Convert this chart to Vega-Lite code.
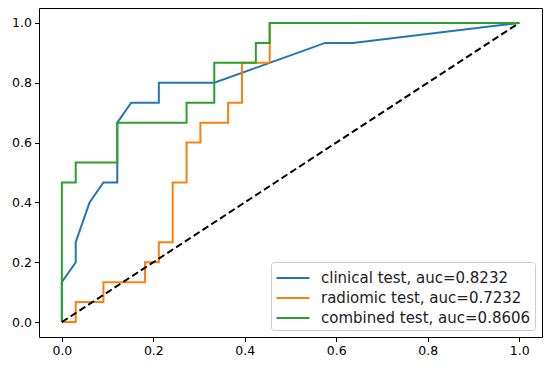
{
  "$schema": "https://vega.github.io/schema/vega-lite/v6.json",
  "width": 503,
  "height": 329,
  "autosize": {"type": "none"},
  "padding": {"left": 39, "top": 8, "right": 8, "bottom": 35},
  "background": "white",
  "config": {
    "view": {"stroke": "black", "strokeWidth": 1},
    "axis": {
      "grid": false,
      "domain": false,
      "labelFont": "DejaVu Sans",
      "labelFontSize": 12.5,
      "labelColor": "black",
      "tickColor": "black",
      "tickSize": 4.5,
      "tickWidth": 1,
      "labelPadding": 3,
      "title": null
    },
    "legend": {
      "orient": "bottom-right",
      "offset": 7,
      "strokeColor": "#cccccc",
      "fillColor": "white",
      "padding": 4,
      "cornerRadius": 3,
      "labelFont": "DejaVu Sans",
      "labelFontSize": 15,
      "labelColor": "#222222",
      "symbolType": "M-1.5,0H1.5",
      "symbolSize": 484,
      "symbolStrokeWidth": 2,
      "symbolOffset": 6,
      "labelOffset": 16,
      "rowPadding": 0,
      "labelLimit": 400
    }
  },
  "datasets": {
    "roc": [
      {"s": "clinical test, auc=0.8232", "i": 0, "x": 0, "y": 0},
      {"s": "clinical test, auc=0.8232", "i": 1, "x": 0, "y": 0.1333},
      {"s": "clinical test, auc=0.8232", "i": 2, "x": 0.0303, "y": 0.2},
      {"s": "clinical test, auc=0.8232", "i": 3, "x": 0.0303, "y": 0.2667},
      {"s": "clinical test, auc=0.8232", "i": 4, "x": 0.0606, "y": 0.4},
      {"s": "clinical test, auc=0.8232", "i": 5, "x": 0.0909, "y": 0.4667},
      {"s": "clinical test, auc=0.8232", "i": 6, "x": 0.1212, "y": 0.4667},
      {"s": "clinical test, auc=0.8232", "i": 7, "x": 0.1212, "y": 0.6667},
      {"s": "clinical test, auc=0.8232", "i": 8, "x": 0.1515, "y": 0.7333},
      {"s": "clinical test, auc=0.8232", "i": 9, "x": 0.2121, "y": 0.7333},
      {"s": "clinical test, auc=0.8232", "i": 10, "x": 0.2121, "y": 0.8},
      {"s": "clinical test, auc=0.8232", "i": 11, "x": 0.3333, "y": 0.8},
      {"s": "clinical test, auc=0.8232", "i": 12, "x": 0.5758, "y": 0.9333},
      {"s": "clinical test, auc=0.8232", "i": 13, "x": 0.6364, "y": 0.9333},
      {"s": "clinical test, auc=0.8232", "i": 14, "x": 1, "y": 1},
      {"s": "radiomic test, auc=0.7232", "i": 0, "x": 0, "y": 0},
      {"s": "radiomic test, auc=0.7232", "i": 1, "x": 0.0303, "y": 0},
      {"s": "radiomic test, auc=0.7232", "i": 2, "x": 0.0303, "y": 0.0667},
      {"s": "radiomic test, auc=0.7232", "i": 3, "x": 0.0909, "y": 0.0667},
      {"s": "radiomic test, auc=0.7232", "i": 4, "x": 0.0909, "y": 0.1333},
      {"s": "radiomic test, auc=0.7232", "i": 5, "x": 0.1818, "y": 0.1333},
      {"s": "radiomic test, auc=0.7232", "i": 6, "x": 0.1818, "y": 0.2},
      {"s": "radiomic test, auc=0.7232", "i": 7, "x": 0.2121, "y": 0.2},
      {"s": "radiomic test, auc=0.7232", "i": 8, "x": 0.2121, "y": 0.2667},
      {"s": "radiomic test, auc=0.7232", "i": 9, "x": 0.2424, "y": 0.2667},
      {"s": "radiomic test, auc=0.7232", "i": 10, "x": 0.2424, "y": 0.4667},
      {"s": "radiomic test, auc=0.7232", "i": 11, "x": 0.2727, "y": 0.4667},
      {"s": "radiomic test, auc=0.7232", "i": 12, "x": 0.2727, "y": 0.6},
      {"s": "radiomic test, auc=0.7232", "i": 13, "x": 0.303, "y": 0.6},
      {"s": "radiomic test, auc=0.7232", "i": 14, "x": 0.303, "y": 0.6667},
      {"s": "radiomic test, auc=0.7232", "i": 15, "x": 0.3636, "y": 0.6667},
      {"s": "radiomic test, auc=0.7232", "i": 16, "x": 0.3636, "y": 0.7333},
      {"s": "radiomic test, auc=0.7232", "i": 17, "x": 0.3939, "y": 0.7333},
      {"s": "radiomic test, auc=0.7232", "i": 18, "x": 0.3939, "y": 0.8667},
      {"s": "radiomic test, auc=0.7232", "i": 19, "x": 0.4545, "y": 0.8667},
      {"s": "radiomic test, auc=0.7232", "i": 20, "x": 0.4545, "y": 1},
      {"s": "radiomic test, auc=0.7232", "i": 21, "x": 1, "y": 1},
      {"s": "combined test, auc=0.8606", "i": 0, "x": 0, "y": 0},
      {"s": "combined test, auc=0.8606", "i": 1, "x": 0, "y": 0.4667},
      {"s": "combined test, auc=0.8606", "i": 2, "x": 0.0303, "y": 0.4667},
      {"s": "combined test, auc=0.8606", "i": 3, "x": 0.0303, "y": 0.5333},
      {"s": "combined test, auc=0.8606", "i": 4, "x": 0.1212, "y": 0.5333},
      {"s": "combined test, auc=0.8606", "i": 5, "x": 0.1212, "y": 0.6667},
      {"s": "combined test, auc=0.8606", "i": 6, "x": 0.2727, "y": 0.6667},
      {"s": "combined test, auc=0.8606", "i": 7, "x": 0.2727, "y": 0.7333},
      {"s": "combined test, auc=0.8606", "i": 8, "x": 0.3333, "y": 0.7333},
      {"s": "combined test, auc=0.8606", "i": 9, "x": 0.3333, "y": 0.8667},
      {"s": "combined test, auc=0.8606", "i": 10, "x": 0.4242, "y": 0.8667},
      {"s": "combined test, auc=0.8606", "i": 11, "x": 0.4242, "y": 0.9333},
      {"s": "combined test, auc=0.8606", "i": 12, "x": 0.4545, "y": 0.9333},
      {"s": "combined test, auc=0.8606", "i": 13, "x": 0.4545, "y": 1},
      {"s": "combined test, auc=0.8606", "i": 14, "x": 1, "y": 1}
    ],
    "diag": [
      {"i": 0, "x": 0, "y": 0},
      {"i": 1, "x": 1, "y": 1}
    ]
  },
  "layer": [
    {
      "data": {"name": "roc"},
      "mark": {"type": "line", "strokeWidth": 2, "interpolate": "linear"},
      "encoding": {
        "x": {"field": "x", "type": "quantitative",
              "scale": {"domain": [-0.05, 1.05], "nice": false, "zero": false},
              "axis": {"values": [0, 0.2, 0.4, 0.6, 0.8, 1.0], "format": ".1f"}},
        "y": {"field": "y", "type": "quantitative",
              "scale": {"domain": [-0.05, 1.05], "nice": false, "zero": false},
              "axis": {"values": [0, 0.2, 0.4, 0.6, 0.8, 1.0], "format": ".1f"}},
        "color": {"field": "s", "type": "nominal",
                  "scale": {"domain": ["clinical test, auc=0.8232", "radiomic test, auc=0.7232", "combined test, auc=0.8606"],
                            "range": ["#1f77b4", "#ff7f0e", "#2ca02c"]},
                  "legend": {"title": null}},
        "order": {"field": "i", "type": "quantitative"}
      }
    },
    {
      "data": {"name": "diag"},
      "mark": {"type": "line", "color": "black", "strokeWidth": 2, "strokeDash": [7, 3.5]},
      "encoding": {
        "x": {"field": "x", "type": "quantitative"},
        "y": {"field": "y", "type": "quantitative"},
        "order": {"field": "i", "type": "quantitative"}
      }
    }
  ]
}
